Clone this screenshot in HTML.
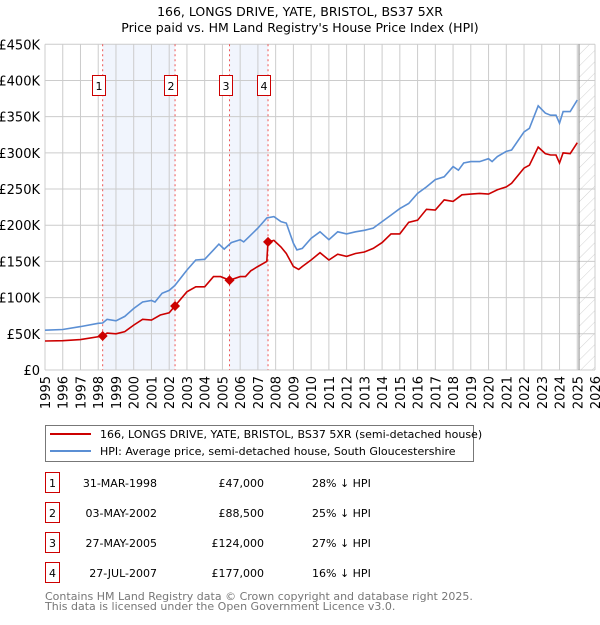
<!DOCTYPE html>
<html><head><meta charset="utf-8"><style>
body{margin:0;background:#fff;font-family:"Liberation Sans","DejaVu Sans",sans-serif;}
svg text{font-family:"DejaVu Sans","Liberation Sans",sans-serif;}
</style></head><body>
<svg id="c" width="600" height="620" xmlns="http://www.w3.org/2000/svg">
<defs><pattern id="hatch" width="8" height="8" patternUnits="userSpaceOnUse" patternTransform="rotate(45)"><line x1="0" y1="0" x2="0" y2="8" stroke="#c8c8c8" stroke-width="0.8"/></pattern></defs>
<text x="300" y="16" text-anchor="middle" font-size="12.5">166, LONGS DRIVE, YATE, BRISTOL, BS37 5XR</text>
<text x="300" y="32" text-anchor="middle" font-size="12.5">Price paid vs. HM Land Registry's House Price Index (HPI)</text>
<g id="plot"></g>
<g>
<rect x="45.5" y="425.5" width="428" height="36" fill="#fff" stroke="#777"/>
<line x1="50" y1="434" x2="91" y2="434" stroke="#cc0000" stroke-width="2"/>
<text x="100" y="438" font-size="11">166, LONGS DRIVE, YATE, BRISTOL, BS37 5XR (semi-detached house)</text>
<line x1="50" y1="451" x2="91" y2="451" stroke="#5b8fd4" stroke-width="2"/>
<text x="100" y="455" font-size="11">HPI: Average price, semi-detached house, South Gloucestershire</text>
</g>
<g id="tbl"></g>
<text x="45" y="600" font-size="11" fill="#777">Contains HM Land Registry data © Crown copyright and database right 2025.</text>
<text x="45" y="610" font-size="11" fill="#777">This data is licensed under the Open Government Licence v3.0.</text>
</svg>
<script>
const hpiYears=[1995,1996,1997,1998,1998.25,1998.5,1999,1999.5,2000,2000.5,2001,2001.2,2001.6,2002,2002.33,2003,2003.5,2004,2004.5,2004.8,2005.1,2005.5,2006,2006.2,2006.5,2007,2007.5,2007.9,2008.3,2008.6,2009,2009.2,2009.5,2010,2010.5,2011,2011.5,2012,2012.5,2013,2013.5,2014,2014.5,2015,2015.5,2016,2016.5,2017,2017.5,2018,2018.3,2018.6,2019,2019.5,2020,2020.2,2020.5,2021,2021.3,2022,2022.3,2022.8,2023.2,2023.5,2023.8,2024,2024.2,2024.6,2025];
const hpiValues=[55,56,60,64.5,65,70,68,74,85,94,96,94,106,110,117,138,152,153,166,174,167,176,180,177,184,196,210,212,205,203,175,166,168,182,191,180,191,188,191,193,196,205,214,223,230,244,253,263,267,281,276,286,288,288,292,288,295,302,304,329,334,365,355,352,352,341,357,357,373];
const propYears=[1995,1996,1997,1998.25,1998.5,1999,1999.5,2000,2000.5,2001,2001.5,2002,2002.33,2003,2003.5,2004,2004.5,2004.9,2005.4,2006,2006.3,2006.6,2007,2007.5,2007.57,2007.9,2008.3,2008.6,2009,2009.3,2009.5,2010,2010.5,2011,2011.5,2012,2012.5,2013,2013.5,2014,2014.5,2015,2015.5,2016,2016.5,2017,2017.5,2018,2018.5,2019,2019.5,2020,2020.5,2021,2021.3,2022,2022.3,2022.8,2023.2,2023.5,2023.8,2024,2024.2,2024.6,2025];
const propValues=[40,40.5,42,47,51,50,53,62,70,69,76,79,88.5,108,115,115,129,129,124,129,129,137,143,150,177,179,170,161,143,139,143,152,162,152,160,157,161,163,168,176,188,188,204,207,222,221,235,233,242,243,244,243,249,253,258,279,283,308,299,297,297,286,300,299,314];
const saleLabels=["1","2","3","4"];
const saleYears=[1998.25,2002.33,2005.4,2007.57];
const saleValues=[47,88.5,124,177];
const saleDates=["31-MAR-1998","03-MAY-2002","27-MAY-2005","27-JUL-2007"];
const salePrices=["£47,000","£88,500","£124,000","£177,000"];
const saleDiffs=["28% ↓ HPI","25% ↓ HPI","27% ↓ HPI","16% ↓ HPI"];
const yTicks=[0,50,100,150,200,250,300,350,400,450];
const yTickLabels=["£0","£50K","£100K","£150K","£200K","£250K","£300K","£350K","£400K","£450K"];
const xTicks=[1995,1996,1997,1998,1999,2000,2001,2002,2003,2004,2005,2006,2007,2008,2009,2010,2011,2012,2013,2014,2015,2016,2017,2018,2019,2020,2021,2022,2023,2024,2025,2026];

const X0=45,X1=595,Y0=370,Y1=44.3;
const x=t=>X0+(t-1995)/31*(X1-X0);
const y=v=>Y0-v/450*(Y0-Y1);
const NS="http://www.w3.org/2000/svg";
const g=document.getElementById('plot');
function mk(tag,attrs,parent){const e=document.createElementNS(NS,tag);for(const k in attrs)e.setAttribute(k,attrs[k]);(parent||g).appendChild(e);return e;}

for(let i=0;i<4;i+=2){
  const r=mk('rect',{x:x(saleYears[i]),y:Y1,width:x(saleYears[i+1])-x(saleYears[i]),height:Y0-Y1,fill:'#f1f5fd'});
  
  
}
const hz=mk('rect',{x:x(2025.1),y:Y1,width:X1-x(2025.1),height:Y0-Y1,fill:'url(#hatch)'});


yTicks.forEach((v,i)=>{
  const l=mk('line',{x1:X0,x2:X1,y1:y(v),y2:y(v),stroke:'#ccc'});
  
  
  const t=mk('text',{x:40,y:y(v)+5,'text-anchor':'end','font-size':'13'});
  t.textContent=yTickLabels[i];
  
  
});
xTicks.forEach(yr=>{
  const l=mk('line',{x1:x(yr),x2:x(yr),y1:Y1,y2:Y0,stroke:'#ccc'});
  
  
  const t=mk('text',{x:0,y:0,'text-anchor':'end','font-size':'13',transform:`translate(${x(yr)+5},376) rotate(-90)`});
  t.textContent=yr;
  
  
});
const vl=mk('line',{x1:x(2025.1),x2:x(2025.1),y1:Y1,y2:Y0,stroke:'#888'});


saleYears.forEach((yr,i)=>{
  const l=mk('line',{x1:x(yr),x2:x(yr),y1:Y1,y2:Y0,stroke:'#e55','stroke-dasharray':'2,3'});
  
  
});
function path(xs,vs,color,name){
  const d=xs.map((t,i)=>(i?'L':'M')+x(t).toFixed(1)+','+y(vs[i]).toFixed(1)).join('');
  const p=mk('path',{d:d,fill:'none',stroke:color,'stroke-width':1.6});
  
  
}
path(hpiYears,hpiValues,'#5b8fd4','hpi-line');
path(propYears,propValues,'#cc0000','property-line');
saleYears.forEach((yr,i)=>{
  const cx=x(yr),cy=y(saleValues[i]);
  const m=mk('path',{d:`M${cx},${cy-5}L${cx+5},${cy}L${cx},${cy+5}L${cx-5},${cy}Z`,fill:'#cc0000'});
  
  
  const bx=Math.round(cx-11);
  const b=mk('rect',{x:bx+0.5,y:75.5,width:13,height:20,fill:'#fff',stroke:'#cc0000'});
  
  
  const t=mk('text',{x:bx+7,y:90,'text-anchor':'middle','font-size':'11'});
  t.textContent=saleLabels[i];
  
  
});
const tb=document.getElementById('tbl');
saleLabels.forEach((s,i)=>{
  const yy=483+i*30;
  const b=mk('rect',{x:45.5,y:yy-10.5,width:14,height:20,fill:'#fff',stroke:'#cc0000'},tb);
  
  
  const cells=[[52.5,'middle',s],[157,'end',saleDates[i]],[264,'end',salePrices[i]],[312,'start',saleDiffs[i]]];
  cells.forEach(c=>{
    const t=mk('text',{x:c[0],y:yy+4,'text-anchor':c[1],'font-size':'11'},tb);
    t.textContent=c[2];
    
    
  });
});
</script>
</body></html>
